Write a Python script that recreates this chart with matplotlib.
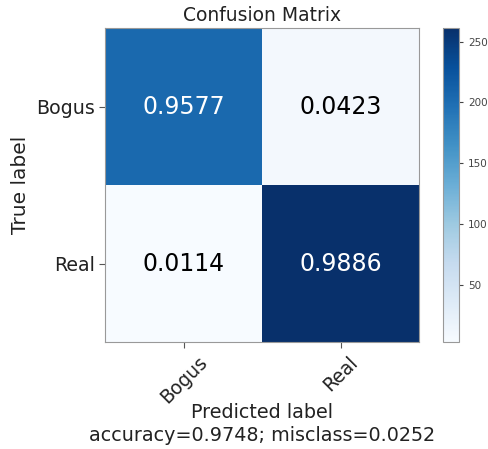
import numpy as np
import matplotlib
matplotlib.use('Agg')
import matplotlib.pyplot as plt

# raw counts (colour) and class names
classes = ['Bogus', 'Real']
counts = np.array([[204, 9],
                   [3, 261]])

accuracy = np.trace(counts) / counts.sum()
misclass = 1 - accuracy

fig = plt.figure(figsize=(4.89, 4.49), dpi=100)
ax = fig.add_axes([0.215, 0.238, 0.642, 0.699])
cax = fig.add_axes([0.906, 0.238, 0.033, 0.699])

im = ax.imshow(counts, interpolation='nearest', cmap=plt.cm.Blues, aspect='auto')
ax.set_title('Confusion Matrix', fontsize=13.5, color='#222222', pad=5)
cb = fig.colorbar(im, cax=cax)
cb.set_ticks([50, 100, 150, 200, 250])
cb.ax.tick_params(labelsize=7.5, colors='#444444', length=3)
cb.outline.set_edgecolor('#999999')

# normalise for the text
cm = counts.astype('float') / counts.sum(axis=1)[:, np.newaxis]
thresh = cm.max() / 1.5
for i in range(cm.shape[0]):
    for j in range(cm.shape[1]):
        ax.text(j, i, "{:0.4f}".format(cm[i, j]),
                ha='center', va='center', fontsize=17,
                color='white' if cm[i, j] > thresh else 'black')

ax.set_xticks(np.arange(len(classes)))
ax.set_yticks(np.arange(len(classes)))
ax.set_xticklabels(classes, rotation=45, fontsize=13.5)
ax.set_yticklabels(classes, fontsize=13.7)
ax.tick_params(colors='#555555', labelcolor='#222222', length=4)
for s in ax.spines.values():
    s.set_edgecolor('#999999')

ax.set_ylabel('True label', fontsize=14.5, color='#222222')
ax.set_xlabel('Predicted label\naccuracy={:0.4f}; misclass={:0.4f}'.format(accuracy, misclass),
              fontsize=13.8, color='#222222', linespacing=1.3, labelpad=-3)

fig.savefig('out.png', dpi=100)
